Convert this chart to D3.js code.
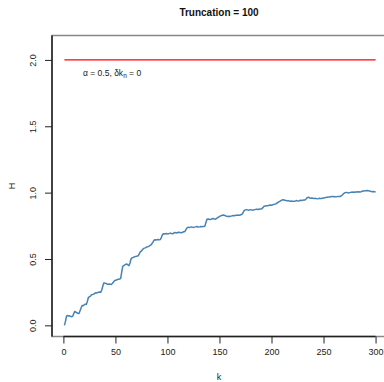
<!DOCTYPE html>
<html>
<head>
<meta charset="utf-8">
<script src="https://cdn.jsdelivr.net/npm/d3@7"></script>
<style>
  body { margin: 0; background: #fff; }
  svg { display: block; font-family: "Liberation Sans", Arial, sans-serif; }
</style>
</head>
<body>
<div id="chart"></div>
<script>
let width = 384,
    height = 382

// chart text
let title = "Truncation = 100"
let xLabel = "k"
let yLabel = "H"

// tick values
let xTicks = [0, 50, 100, 150, 200, 250, 300]
let yTicks = [0.0, 0.5, 1.0, 1.5, 2.0]

// reference level (red line)
let refLevel = 2.0

// H for k = 1..300
let H = [
  0.000, 0.030, 0.070, 0.075, 0.070, 0.072, 0.068, 0.065, 0.070, 0.090,
  0.105, 0.100, 0.095, 0.090, 0.090, 0.110, 0.130, 0.150, 0.148, 0.155,
  0.160, 0.158, 0.180, 0.210, 0.215, 0.220, 0.230, 0.232, 0.235, 0.240,
  0.245, 0.243, 0.248, 0.250, 0.252, 0.250, 0.270, 0.300, 0.320, 0.318,
  0.315, 0.312, 0.310, 0.312, 0.310, 0.308, 0.315, 0.325, 0.335, 0.340,
  0.342, 0.345, 0.348, 0.350, 0.352, 0.400, 0.445, 0.450, 0.455, 0.460,
  0.462, 0.455, 0.450, 0.470, 0.500, 0.510, 0.512, 0.515, 0.518, 0.520,
  0.522, 0.525, 0.540, 0.555, 0.560, 0.570, 0.580, 0.582, 0.585, 0.590,
  0.592, 0.595, 0.600, 0.605, 0.615, 0.625, 0.640, 0.645, 0.643, 0.645,
  0.647, 0.644, 0.646, 0.660, 0.680, 0.690, 0.688, 0.690, 0.692, 0.689,
  0.690, 0.693, 0.695, 0.692, 0.690, 0.695, 0.700, 0.698, 0.695, 0.700,
  0.702, 0.700, 0.698, 0.700, 0.703, 0.705, 0.710, 0.725, 0.735, 0.740,
  0.738, 0.740, 0.742, 0.740, 0.738, 0.740, 0.742, 0.745, 0.743, 0.740,
  0.742, 0.745, 0.743, 0.744, 0.745, 0.748, 0.775, 0.800, 0.802, 0.800,
  0.798, 0.800, 0.803, 0.805, 0.802, 0.800, 0.805, 0.810, 0.815, 0.820,
  0.825, 0.828, 0.830, 0.832, 0.828, 0.825, 0.822, 0.820, 0.822, 0.820,
  0.823, 0.825, 0.827, 0.826, 0.828, 0.830, 0.829, 0.831, 0.830, 0.832,
  0.835, 0.840, 0.855, 0.868, 0.870, 0.872, 0.870, 0.868, 0.870, 0.872,
  0.870, 0.868, 0.870, 0.872, 0.874, 0.875, 0.873, 0.875, 0.877, 0.876,
  0.880, 0.890, 0.898, 0.900, 0.902, 0.900, 0.903, 0.905, 0.907, 0.905,
  0.908, 0.910, 0.912, 0.915, 0.920, 0.925, 0.930, 0.935, 0.940, 0.944,
  0.946, 0.945, 0.943, 0.940, 0.938, 0.940, 0.937, 0.935, 0.937, 0.934,
  0.936, 0.935, 0.937, 0.940, 0.938, 0.936, 0.940, 0.942, 0.940, 0.943,
  0.945, 0.944, 0.950, 0.960, 0.965, 0.963, 0.960, 0.958, 0.960, 0.957,
  0.955, 0.957, 0.955, 0.953, 0.955, 0.957, 0.955, 0.956, 0.958, 0.960,
  0.962, 0.963, 0.965, 0.966, 0.968, 0.967, 0.969, 0.970, 0.971, 0.969,
  0.970, 0.968, 0.970, 0.972, 0.970, 0.971, 0.975, 0.982, 0.990, 0.997,
  1.000, 1.002, 1.000, 0.998, 1.000, 1.002, 1.004, 1.003, 1.005, 1.003,
  1.004, 1.006, 1.005, 1.006, 1.005, 1.007, 1.010, 1.012, 1.013, 1.015,
  1.014, 1.016, 1.015, 1.013, 1.010, 1.008, 1.006, 1.008, 1.007, 1.005
]
let K = H.map((d, i) => i + 1)

// plot region (R style, 4% padding), right edge runs past the window
let pLeft = 52, pRight = 388, pTop = 35.5, pBottom = 336.5

let x = d3.scaleLinear()
  .domain([1 - 299 * 0.04, 300 + 299 * 0.04])
  .range([pLeft, pRight])

let y = d3.scaleLinear()
  .domain([-2.1 * 0.04, 2.1 * 1.04])
  .range([pBottom, pTop])

let svg = d3.select("#chart").append("svg")
  .attr("width", width)
  .attr("height", height)

// grey box
svg.append("rect")
  .attr("x", pLeft).attr("y", pTop)
  .attr("width", pRight - pLeft).attr("height", pBottom - pTop)
  .attr("fill", "none")
  .attr("stroke", "#888")
  .attr("stroke-width", 1.5)

// left frame line is dark all the way
svg.append("line")
  .attr("x1", pLeft).attr("x2", pLeft)
  .attr("y1", pTop).attr("y2", pBottom)
  .attr("stroke", "#222").attr("stroke-width", 1.5)

// x axis
let xAxis = d3.axisBottom(x)
  .tickValues(xTicks)
  .tickSize(7)
  .tickPadding(5)
  .tickFormat(d3.format("d"))

let gx = svg.append("g")
  .attr("transform", `translate(0,${pBottom})`)
  .call(xAxis)
gx.select(".domain")
  .attr("d", `M${x(xTicks[0])},0H${x(xTicks[xTicks.length - 1])}`)
  .attr("stroke", "#222").attr("stroke-width", 1.5)
gx.selectAll(".tick line").attr("stroke", "#222").attr("stroke-width", 1)
gx.selectAll(".tick text")
  .attr("font-family", "Liberation Sans, Arial, sans-serif")
  .attr("font-size", 9).attr("fill", "#222")

// y axis, labels turned like R's las = 0
let yAxis = d3.axisLeft(y)
  .tickValues(yTicks)
  .tickSize(7)
  .tickFormat(d3.format(".1f"))

let gy = svg.append("g")
  .attr("transform", `translate(${pLeft},0)`)
  .call(yAxis)
gy.select(".domain").remove()
gy.selectAll(".tick line").attr("stroke", "#222").attr("stroke-width", 1)
gy.selectAll(".tick text")
  .attr("x", null).attr("dy", null)
  .attr("transform", "translate(-16,0) rotate(-90)")
  .attr("text-anchor", "middle")
  .attr("font-family", "Liberation Sans, Arial, sans-serif")
  .attr("font-size", 9).attr("fill", "#222")

// red reference line
svg.append("line")
  .attr("x1", x(1)).attr("x2", x(300))
  .attr("y1", y(refLevel)).attr("y2", y(refLevel))
  .attr("stroke", "#ff0000")
  .attr("stroke-width", 1.2)

// annotation
let note = svg.append("text")
  .attr("x", 83).attr("y", 76)
  .attr("font-size", 8.5)
  .attr("fill", "#222")
note.append("tspan").text("\u03b1 = 0.5, \u03b4k")
note.append("tspan").attr("dy", 2).attr("font-size", 6.5).text("n")
note.append("tspan").attr("dy", -2).text(" = 0")

// H curve
let line = d3.line()
  .x((d, i) => x(K[i]))
  .y(d => y(d))

svg.append("path")
  .datum(H)
  .attr("d", line)
  .attr("fill", "none")
  .attr("stroke", "#4682b4")
  .attr("stroke-width", 1.5)
  .attr("stroke-linejoin", "round")

// title and axis titles
svg.append("text")
  .attr("x", 219).attr("y", 16)
  .attr("text-anchor", "middle")
  .attr("font-size", 10)
  .attr("font-weight", "bold")
  .attr("fill", "#111")
  .text(title)

svg.append("text")
  .attr("x", 219).attr("y", 380)
  .attr("text-anchor", "middle")
  .attr("font-size", 9)
  .attr("fill", "#222")
  .text(xLabel)

svg.append("text")
  .attr("transform", `translate(15,${(pTop + pBottom) / 2}) rotate(-90)`)
  .attr("text-anchor", "middle")
  .attr("font-size", 9)
  .attr("fill", "#222")
  .text(yLabel)
</script>
</body>
</html>
